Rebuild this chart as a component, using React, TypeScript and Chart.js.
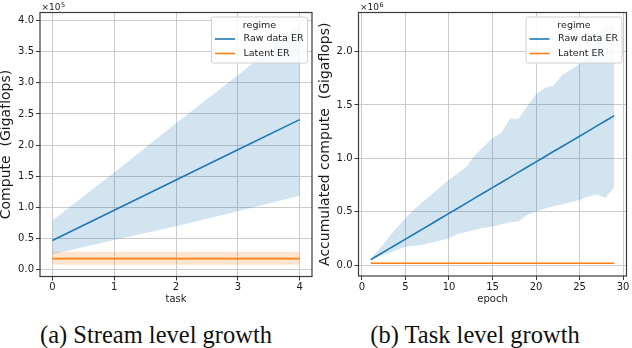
import React, { useEffect, useRef } from "react";
import { Chart, registerables } from "chart.js";

Chart.register(...registerables);

// ---------- data (left panel values in units of 1e5, right panel in units of 1e6) ----------
const TASKS = [0, 1, 2, 3, 4];
const RAW_TASK_MEAN = [0.47, 0.955, 1.44, 1.925, 2.41];
const RAW_TASK_UPPER = [0.79, 1.56, 2.35, 3.12, 3.92];
const RAW_TASK_LOWER = [0.25, 0.48, 0.7, 0.94, 1.19];
const LAT_TASK_MEAN = [0.18, 0.18, 0.18, 0.18, 0.18];
const LAT_TASK_UPPER = [0.29, 0.29, 0.29, 0.29, 0.29];
const LAT_TASK_LOWER = [0.08, 0.08, 0.08, 0.08, 0.08];

const EPOCHS = [1, 2, 3, 4, 5, 6, 7, 8, 9, 10, 11, 12, 13, 14, 15, 16, 17, 18, 19, 20, 21, 22, 23, 24, 25, 26, 27, 28, 29];
const RAW_EPOCH_MEAN = [0.05, 0.098, 0.146, 0.195, 0.243, 0.291, 0.339, 0.387, 0.436, 0.484, 0.532, 0.58, 0.629, 0.677, 0.725, 0.773, 0.821, 0.87, 0.918, 0.966, 1.014, 1.063, 1.111, 1.159, 1.207, 1.255, 1.304, 1.352, 1.4];
const RAW_EPOCH_UPPER = [0.06, 0.15, 0.25, 0.35, 0.44, 0.52, 0.59, 0.66, 0.73, 0.8, 0.86, 0.92, 1.03, 1.11, 1.19, 1.24, 1.37, 1.37, 1.49, 1.6, 1.66, 1.68, 1.78, 1.83, 1.88, 1.96, 2.12, 2.25, 2.23];
const RAW_EPOCH_LOWER = [0.04, 0.08, 0.11, 0.14, 0.17, 0.18, 0.19, 0.21, 0.23, 0.25, 0.29, 0.31, 0.33, 0.35, 0.36, 0.38, 0.4, 0.41, 0.47, 0.5, 0.53, 0.55, 0.57, 0.59, 0.61, 0.64, 0.66, 0.63, 0.73];
const LAT_EPOCH_MEAN = [0.016, 0.016, 0.016, 0.016, 0.016, 0.016, 0.016, 0.016, 0.016, 0.016, 0.016, 0.016, 0.016, 0.016, 0.016, 0.016, 0.016, 0.016, 0.016, 0.016, 0.016, 0.016, 0.016, 0.016, 0.016, 0.016, 0.016, 0.016, 0.016];
const LAT_EPOCH_UPPER = [0.022, 0.022, 0.022, 0.022, 0.022, 0.022, 0.022, 0.022, 0.022, 0.022, 0.022, 0.022, 0.022, 0.022, 0.022, 0.022, 0.022, 0.022, 0.022, 0.022, 0.022, 0.022, 0.022, 0.022, 0.022, 0.022, 0.022, 0.022, 0.022];
const LAT_EPOCH_LOWER = [0.01, 0.01, 0.01, 0.01, 0.01, 0.01, 0.01, 0.01, 0.01, 0.01, 0.01, 0.01, 0.01, 0.01, 0.01, 0.01, 0.01, 0.01, 0.01, 0.01, 0.01, 0.01, 0.01, 0.01, 0.01, 0.01, 0.01, 0.01, 0.01];

const X_TICKS_A = [0, 1, 2, 3, 4];
const Y_TICKS_A = [0, 0.5, 1, 1.5, 2, 2.5, 3, 3.5, 4];
const X_TICKS_B = [0, 5, 10, 15, 20, 25, 30];
const Y_TICKS_B = [0, 0.5, 1, 1.5, 2];

const SERIES_LABELS = ["Raw data ER", "Latent ER"];
const LEGEND_TITLE = "regime";

// ---------- styles ----------
const FONT = "'DejaVu Sans', sans-serif";
const BLUE = "#1f77b4";
const ORANGE = "#ff7f0e";
const BLUE_BAND = "rgba(31,119,180,0.2)";
const ORANGE_BAND = "rgba(255,127,14,0.2)";
const GRID = "#cbcbcb";
const AXIS = "#3a3a3a";
const TEXT = "#1a1a1a";
const NONE = "rgba(0,0,0,0)";

type Panel = {
  x: number[];
  rawMean: number[];
  rawUpper: number[];
  rawLower: number[];
  latMean: number[];
  latUpper: number[];
  latLower: number[];
  xTicks: number[];
  yTicks: number[];
  xMin: number;
  xMax: number;
  yMin: number;
  yMax: number;
  xTitle: string;
  yTitle: string;
  exponent: string;
  yAxisW: number;
  xAxisH: number;
  padRight: number;
  yTitlePad: number;
};

function makeConfig(p: Panel): any {
  const pts = (ys: number[]) => p.x.map((x, i) => ({ x, y: ys[i] }));
  const band = (ys: number[], bg: string, fill: any) => ({
    data: pts(ys),
    borderColor: NONE,
    borderWidth: 1,
    pointRadius: 0,
    backgroundColor: bg,
    fill,
    tension: 0,
  });

  const framePlugin = {
    id: "frame",
    afterDatasetsDraw(chart: any) {
      const { ctx, chartArea: a } = chart;
      ctx.save();
      ctx.strokeStyle = AXIS;
      ctx.lineWidth = 1.2;
      ctx.strokeRect(a.left, a.top, a.right - a.left, a.bottom - a.top);
      ctx.restore();
    },
  };

  const legendPlugin = {
    id: "boxLegend",
    afterDraw(chart: any) {
      const { ctx, chartArea: a } = chart;
      const w = 96;
      const h = 46;
      const bx = a.right - 4.5 - w;
      const by = a.top + 4.5;
      ctx.save();
      ctx.fillStyle = "rgba(255,255,255,0.85)";
      ctx.strokeStyle = "#d0d0d0";
      ctx.lineWidth = 1;
      ctx.beginPath();
      if (ctx.roundRect) ctx.roundRect(bx, by, w, h, 2);
      else ctx.rect(bx, by, w, h);
      ctx.fill();
      ctx.stroke();
      ctx.font = `9.5px ${FONT}`;
      ctx.fillStyle = TEXT;
      ctx.textBaseline = "middle";
      ctx.textAlign = "center";
      ctx.fillText(LEGEND_TITLE, bx + w / 2, by + 8.5);
      ctx.textAlign = "left";
      const colors = [BLUE, ORANGE];
      SERIES_LABELS.forEach((lab, i) => {
        const y = by + 22 + i * 14.5;
        ctx.strokeStyle = colors[i];
        ctx.lineWidth = 1.6;
        ctx.beginPath();
        ctx.moveTo(bx + 3.5, y);
        ctx.lineTo(bx + 23.5, y);
        ctx.stroke();
        ctx.fillText(lab, bx + 32, y);
      });
      ctx.restore();
    },
  };

  const offsetPlugin = {
    id: "offsetText",
    afterDraw(chart: any) {
      const { ctx, chartArea: a } = chart;
      ctx.save();
      ctx.fillStyle = TEXT;
      ctx.textBaseline = "alphabetic";
      ctx.textAlign = "left";
      ctx.font = `9px ${FONT}`;
      const base = "\u00d710";
      ctx.fillText(base, a.left + 1.5, 10);
      const bw = ctx.measureText(base).width;
      ctx.font = `6.5px ${FONT}`;
      ctx.fillText(p.exponent, a.left + 1.5 + bw + 0.5, 6.5);
      ctx.restore();
    },
  };

  return {
    type: "line",
    data: {
      datasets: [
        { label: SERIES_LABELS[0], data: pts(p.rawMean), borderColor: BLUE, borderWidth: 1.6, pointRadius: 0, fill: false, tension: 0 },
        { label: SERIES_LABELS[1], data: pts(p.latMean), borderColor: ORANGE, borderWidth: 1.6, pointRadius: 0, fill: false, tension: 0 },
        band(p.rawUpper, BLUE_BAND, 3),
        band(p.rawLower, NONE, false),
        band(p.latUpper, ORANGE_BAND, 5),
        band(p.latLower, NONE, false),
      ],
    },
    options: {
      animation: false,
      responsive: false,
      devicePixelRatio: 1,
      events: [],
      layout: { padding: { top: 12.5, right: p.padRight, left: 0, bottom: 0 } },
      plugins: { legend: { display: false }, tooltip: { enabled: false }, title: { display: false } },
      scales: {
        x: {
          type: "linear",
          min: p.xMin,
          max: p.xMax,
          afterBuildTicks: (s: any) => {
            s.ticks = p.xTicks.map((v) => ({ value: v }));
          },
          afterFit: (s: any) => {
            s.height = p.xAxisH;
          },
          grid: { color: GRID, lineWidth: 1, tickColor: AXIS, tickLength: 4, drawTicks: true },
          border: { display: false },
          ticks: { font: { family: FONT, size: 10 }, color: TEXT, padding: 1, maxRotation: 0, autoSkip: false, callback: (v: any) => String(v) },
          title: { display: true, text: p.xTitle, font: { family: FONT, size: 10 }, color: TEXT, padding: { top: 0, bottom: 5 } },
        },
        y: {
          type: "linear",
          min: p.yMin,
          max: p.yMax,
          afterBuildTicks: (s: any) => {
            s.ticks = p.yTicks.map((v) => ({ value: v }));
          },
          afterFit: (s: any) => {
            s.width = p.yAxisW;
          },
          grid: { color: GRID, lineWidth: 1, tickColor: AXIS, tickLength: 4, drawTicks: true },
          border: { display: false },
          ticks: { font: { family: FONT, size: 10 }, color: TEXT, padding: 2, autoSkip: false, callback: (v: any) => Number(v).toFixed(1) },
          title: { display: true, text: p.yTitle, font: { family: FONT, size: 14 }, color: TEXT, padding: { top: p.yTitlePad, bottom: 0 } },
        },
      },
    },
    plugins: [framePlugin, legendPlugin, offsetPlugin],
  };
}

const PANEL_A: Panel = {
  x: TASKS,
  rawMean: RAW_TASK_MEAN,
  rawUpper: RAW_TASK_UPPER,
  rawLower: RAW_TASK_LOWER,
  latMean: LAT_TASK_MEAN,
  latUpper: LAT_TASK_UPPER,
  latLower: LAT_TASK_LOWER,
  xTicks: X_TICKS_A,
  yTicks: Y_TICKS_A,
  xMin: -0.2,
  xMax: 4.2,
  yMin: -0.107,
  yMax: 4.128,
  xTitle: "task",
  yTitle: "Compute  (Gigaflops)",
  exponent: "5",
  yAxisW: 40,
  xAxisH: 33.5,
  padRight: 4,
  yTitlePad: -2.5,
};

const PANEL_B: Panel = {
  x: EPOCHS,
  rawMean: RAW_EPOCH_MEAN,
  rawUpper: RAW_EPOCH_UPPER,
  rawLower: RAW_EPOCH_LOWER,
  latMean: LAT_EPOCH_MEAN,
  latUpper: LAT_EPOCH_UPPER,
  latLower: LAT_EPOCH_LOWER,
  xTicks: X_TICKS_B,
  yTicks: Y_TICKS_B,
  xMin: -0.4,
  xMax: 30.4,
  yMin: -0.103,
  yMax: 2.366,
  xTitle: "epoch",
  yTitle: "Accumulated compute  (Gigaflops)",
  exponent: "6",
  yAxisW: 42.5,
  xAxisH: 34,
  padRight: 5.5,
  yTitlePad: 1,
};

function ChartPanel({ panel, left }: { panel: Panel; left: number }) {
  const ref = useRef<HTMLCanvasElement | null>(null);
  useEffect(() => {
    if (!ref.current) return;
    const chart = new Chart(ref.current, makeConfig(panel));
    return () => chart.destroy();
  }, [panel]);
  return (
    <canvas
      ref={ref}
      width={316}
      height={310}
      style={{ position: "absolute", left, top: 0, width: 316, height: 310 }}
    />
  );
}

const captionStyle: React.CSSProperties = {
  position: "absolute",
  top: 322.8,
  fontFamily: "'Liberation Serif', 'Times New Roman', serif",
  fontSize: 24.5,
  lineHeight: 1,
  color: "#111",
  whiteSpace: "nowrap",
  transform: "translateX(-50%)",
};

export default function App() {
  useEffect(() => {
    document.body.style.margin = "0";
  }, []);
  return (
    <div style={{ position: "fixed", left: 0, top: 0, width: 632, height: 348, background: "#fff", overflow: "hidden" }}>
      <ChartPanel panel={PANEL_A} left={0} />
      <ChartPanel panel={PANEL_B} left={316} />
      <div style={{ ...captionStyle, left: 156 }}>(a) Stream level growth</div>
      <div style={{ ...captionStyle, left: 475 }}>(b) Task level growth</div>
    </div>
  );
}
